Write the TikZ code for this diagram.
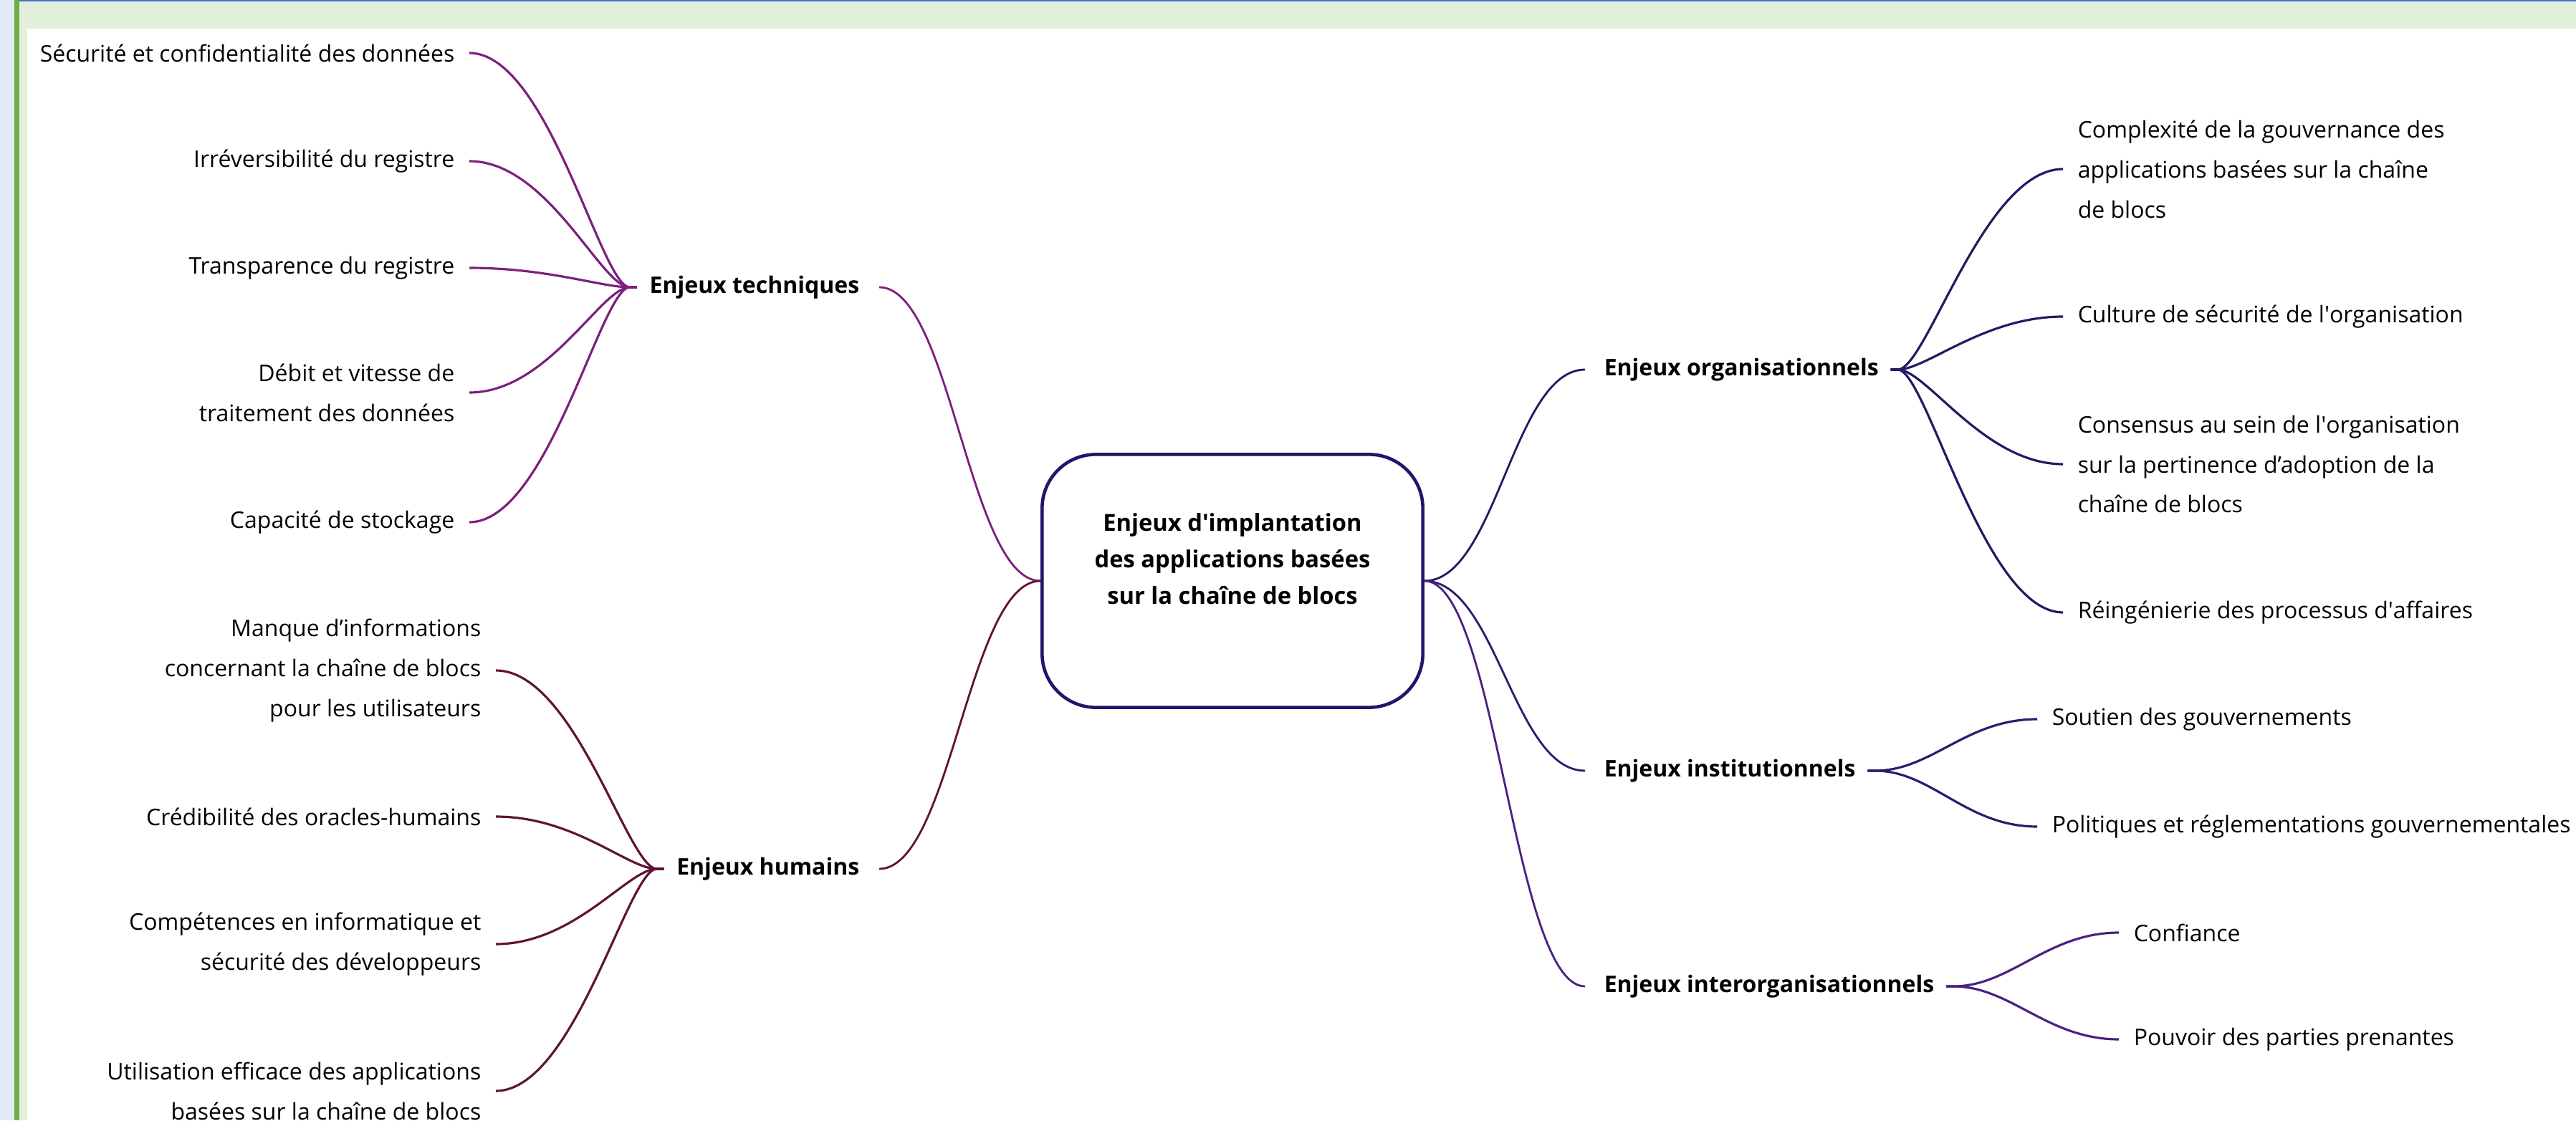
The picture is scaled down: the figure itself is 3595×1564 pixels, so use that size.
\documentclass[tikz,border=0pt]{standalone}
\usepackage{fontspec}
\setmainfont{Open Sans}
\usepackage{xcolor}
\usepackage{tikz}
\definecolor{techc}{RGB}{124,32,124}
\definecolor{humc}{RGB}{96,20,52}
\definecolor{orgc}{RGB}{38,24,100}
\definecolor{instc}{RGB}{48,26,112}
\definecolor{interc}{RGB}{74,34,130}
\definecolor{corec}{RGB}{34,22,108}
\definecolor{paleblue}{RGB}{222,234,246}
\definecolor{palegreen}{RGB}{226,239,218}
\definecolor{bargreen}{RGB}{112,173,71}
\definecolor{topblue}{RGB}{68,114,196}
\newcommand{\leaffont}{\fontsize{9.1}{15.9}\selectfont}
\newcommand{\branchfont}{\fontsize{9.1}{15.9}\selectfont\bfseries}
\newcommand{\corefont}{\fontsize{9.3}{14.5}\selectfont\bfseries}
\newcommand{\sq}{\textquotesingle}

\begin{document}
\begin{tikzpicture}[x=0.01cm, y=-0.01cm,
    leafl/.style={anchor=east, align=right, inner xsep=0.2cm, font=\leaffont},
    leafr/.style={anchor=west, align=left, inner xsep=0.2cm, font=\leaffont},
    brl/.style={anchor=east, inner xsep=0.27cm, font=\branchfont},
    brr/.style={anchor=west, inner xsep=0.26cm, font=\branchfont},
    corebox/.style={draw=corec, line width=1.3pt, rounded corners=0.75cm,
      minimum width=5.31cm, minimum height=3.53cm},
    coretext/.style={align=center, font=\corefont},
    twig/.style 2 args={line width=0.9pt, to path={.. controls +(#1,0) and +(#2,0) .. (\tikztotarget) \tikztonodes}},
    limb/.style={line width=0.8pt, out distance=1cm, in distance=1cm}]
  \useasboundingbox (0,0) rectangle (3595,1564);
  \fill[paleblue] (0,0) rectangle (20,1564);
  \fill[bargreen] (20,0) rectangle (27,1564);
  \fill[palegreen] (27,0) rectangle (38,1564);
  \fill[palegreen] (27,0) rectangle (3595,40);
  \fill[topblue] (27,0) rectangle (3595,2);

  \node[corebox] (core) at (1720,811) {};
  \node[coretext] (coretxt) at (1720,780) {Enjeux d\sq implantation\\des applications basées\\sur la chaîne de blocs};

  \node[brl] (tech) at (1227,401) {Enjeux techniques};
  \node[brl] (hum) at (1227,1213) {Enjeux humains};
  \node[brr] (org) at (2212,516) {Enjeux organisationnels};
  \node[brr] (inst) at (2212,1076) {Enjeux institutionnels};
  \node[brr] (inter) at (2212,1377) {Enjeux interorganisationnels};

  \node[leafl] (sec) at (655,74) {Sécurité et confidentialité des données};
  \node[leafl] (irr) at (655,225) {Irréversibilité du registre};
  \node[leafl] (tra) at (655,374) {Transparence du registre};
  \node[leafl] (deb) at (655,548) {Débit et vitesse de\\traitement des données};
  \node[leafl] (cap) at (655,729) {Capacité de stockage};
  \node[leafl] (man) at (692,936) {Manque d’informations\\concernant la chaîne de blocs\\pour les utilisateurs};
  \node[leafl] (cre) at (692,1140) {Crédibilité des oracles-humains};
  \node[leafl] (cmp) at (692,1318) {Compétences en informatique et\\sécurité des développeurs};
  \node[leafl] (uti) at (692,1523) {Utilisation efficace des applications\\basées sur la chaîne de blocs};

  \node[leafr] (cpx) at (2879,236) {Complexité de la gouvernance des\\applications basées sur la chaîne\\de blocs};
  \node[leafr] (cul) at (2879,442) {Culture de sécurité de l\sq organisation};
  \node[leafr] (cons) at (2879,648) {Consensus au sein de l\sq organisation\\sur la pertinence d’adoption de la\\chaîne de blocs};
  \node[leafr] (rei) at (2879,855) {Réingénierie des processus d\sq affaires};
  \node[leafr] (sou) at (2843,1004) {Soutien des gouvernements};
  \node[leafr] (pol) at (2843,1154) {Politiques et réglementations gouvernementales};
  \node[leafr] (conf) at (2957,1302) {Confiance};
  \node[leafr] (pou) at (2957,1451) {Pouvoir des parties prenantes};

  \draw[limb, techc] (core.west) to[out=180, in=0] (tech.east);
  \draw[limb, humc] (core.west) to[out=180, in=0] (hum.east);
  \draw[limb, orgc] (core.east) to[out=0, in=180] (org.west);
  \draw[limb, instc] (core.east) to[out=0, in=180] (inst.west);
  \draw[limb, interc] (core.east) to[out=0, in=180] (inter.west);

  \foreach \l in {sec,irr,tra,deb,cap}
    \draw[techc, twig={110}{-40}] (\l.east) to (tech.west) -- ++(10,0);
  \foreach \l in {man,cre,cmp,uti}
    \draw[humc, twig={110}{-40}] (\l.east) to (hum.west) -- ++(10,0);
  \foreach \l in {cpx,cul,cons,rei}
    \draw[orgc, twig={-110}{40}] (\l.west) to (org.east) -- ++(-10,0);
  \foreach \l in {sou,pol}
    \draw[instc, twig={-100}{80}] (\l.west) to (inst.east) -- ++(-10,0);
  \foreach \l in {conf,pou}
    \draw[interc, twig={-100}{80}] (\l.west) to (inter.east) -- ++(-10,0);
\end{tikzpicture}
\end{document}
